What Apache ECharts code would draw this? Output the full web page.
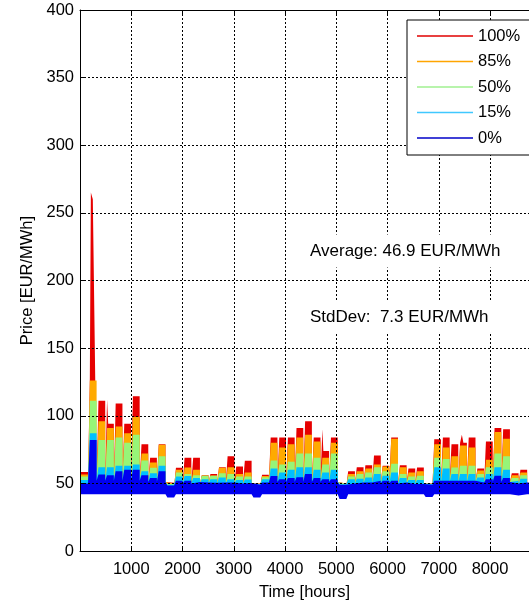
<!DOCTYPE html>
<html><head><meta charset="utf-8">
<script src="https://cdn.jsdelivr.net/npm/echarts@6/dist/echarts.min.js"></script>
<style>html,body{margin:0;padding:0;background:#fff}#c{width:529px;height:606px}</style>
</head><body><div id="c"></div>
<script>
// Legend / series names (bottom to top)
const seriesNames = ['0%', '15%', '50%', '85%', '100%'];
const seriesColors = ['#0000f0', '#00bfff', '#96f578', '#ffaa00', '#e60000'];
const legendColors = ['#0000c8', '#40c8ff', '#a0f090', '#ffa500', '#e00000'];

// Weekly (weekday) levels, weeks 0..51 [EUR/MWh]
const wkBase   = [42,42,42,42,42,42,42,42,42,42,39.5,42,42,42,42,42,42,42,42,42,39.5,42,42,42,42,42,42,42,42,42,38.5,42,42,42,42,42,42,42,42,42,40,42,42,42,42,42,42,42,42,42,41,42];
const wkBlue   = [50,82,56.5,56,59,60,60,56,54,59,48.5,52,52,51,50.7,50.5,50.7,50.7,50,50.2,49,50.7,55.5,53,54,54.5,57,54,53,53,49,50,50.7,50.7,52,52,52,50.7,49.5,49.5,49,52,52,52,52,52,50.7,53,55.6,54,50,50.7];
const wkCyan   = [52.5,87,62,62,63,63,64,59,57.5,63,49,55,55.5,54,53,53,54.4,53,52.5,52.8,49.3,53,61,58,60,62,62,60,58,60,49.3,53,53.5,54.4,57,55.6,58,54,52.5,52.5,49.3,62,61,57,57,57,54.4,57,62,60,52,53.5];
const wkGreen  = [55,111,82,82,84,80,86,67,61.5,70,49.5,58,57,56,55.6,55.6,57.4,57,55,55,49.6,54.5,67,64,66,72,72,69,64,72,49.6,55,57,58,62,59,64.5,57,55,55.6,49.6,69,68,61.8,63,63,57,62,72,70,54,56];
const wkOrange = [56.5,126,96,91,92,87,99,72,65.5,78.5,50,60,61.8,60,55.8,55.8,61.5,62,57,58,49.8,55.5,80,76.5,79,84,86,81,69,80,49.8,57,59,61,64,62.5,83,62,58,59,49.8,79,76.5,70,78,76.5,59.5,67.5,88,83,56,58];
const wkRed    = [58.5,128,111,94,109,94,114.5,79,69,79,50.5,61.5,69,69,56,57,62,70,62.5,66.8,50,56.4,84,84,84,91,96,84,74,84,50,59,62,63.4,70.6,63,84,63.4,61,61.8,50,82.6,84,79,80,84,61,81,91,90,57.4,60];
// Weekend level (top of the band) per week
const weBlue   = [50,52,52,52,52,52,52,51,51,51,48,50,50,50,50,50,50,50,50,50,48,50,51,51,51,51,51,51,51,51,48,50,50,50,50,50,50,50,50,50,48,51,51,51,51,51,50,51,51,51,49,50];
// Short price spikes of the 100% level [hours]
const spikeStart = [212, 250, 289, 520, 4728, 7450];
const spikeEnd   = [250, 289, 324, 550, 4748, 7480];
const spikeRed   = [265, 260, 150, 112, 90, 86];

const xMax = 8760;

// ---- build stepped segment table from the arrays above ----
const bset = new Set([0]);
for (let k = 0; k < wkBase.length; k++) {
  if (k > 0) bset.add(168 * k + 24);
  bset.add(168 * k + 156);
}
spikeStart.forEach(v => bset.add(v));
spikeEnd.forEach(v => bset.add(v));
const bounds = Array.from(bset).filter(v => v < xMax).sort((a, b) => a - b);

const rows = [];
bounds.forEach(h => {
  let k = h < 24 ? 0 : Math.min(wkBase.length - 1, Math.floor((h - 24) / 168));
  const rel = h < 24 ? 0 : h - 24 - 168 * k;
  const weekend = rel >= 132;
  let r;
  if (weekend) {
    const t = weBlue[k];
    r = [wkBase[k], t, t, t, t, t];
  } else {
    r = [wkBase[k], wkBlue[k], wkCyan[k], wkGreen[k], wkOrange[k], wkRed[k]];
    for (let i = 0; i < spikeStart.length; i++) {
      if (h >= spikeStart[i] && h < spikeEnd[i]) r[5] = Math.max(r[5], spikeRed[i]);
    }
  }
  rows.push([h, r]);
});
// last segment runs past the (cropped) right edge of the plot
rows.push([xMax + 200, rows[rows.length - 1][1]]);

const font = 'Liberation Sans, Arial, sans-serif';
const gridLine = { show: true, lineStyle: { color: '#000', type: [2, 2], width: 1 } };

// Areas drawn from the top level down; each one fills to the axis, the last (white) hides below the lowest level.
const series = [];
for (let j = 5; j >= 1; j--) {
  const i = j - 1;
  series.push({
    name: seriesNames[i], type: 'line', step: 'end', zlevel: 0, z: 2, clip: true,
    data: rows.map(([h, r]) => [h, r[j]]),
    symbol: 'none', showSymbol: false, color: seriesColors[i],
    lineStyle: { opacity: 0, width: 0 },
    areaStyle: { color: seriesColors[i], opacity: 1 }
  });
}
series.push({
  name: 'base', type: 'line', step: 'end', zlevel: 0, z: 2, clip: true,
  data: rows.map(([h, r]) => [h, r[0]]),
  symbol: 'none', showSymbol: false, silent: true,
  lineStyle: { opacity: 0, width: 0 },
  areaStyle: { color: '#fff', opacity: 1 }
});

const chart = echarts.init(document.getElementById('c'), null, { renderer: 'canvas' });
chart.setOption({
  animation: false,
  backgroundColor: '#fff',
  textStyle: { fontFamily: font },
  grid: { left: 80, top: 10, right: -6, bottom: 52, containLabel: false },
  xAxis: [{
    type: 'value', min: 0, max: xMax, interval: 1000, position: 'bottom', zlevel: 1,
    axisLine: { show: true, lineStyle: { color: '#000', width: 1 } },
    axisTick: { show: true, inside: true, length: 5, lineStyle: { color: '#000' } },
    axisLabel: { showMinLabel: false, showMaxLabel: false, fontSize: 16.5, color: '#000', fontFamily: font, margin: 10,
      formatter: v => String(v) },
    splitLine: gridLine,
    name: 'Time [hours]', nameLocation: 'middle', nameGap: 33,
    nameTextStyle: { fontSize: 16.5, color: '#000', fontFamily: font }
  }, {
    type: 'value', min: 0, max: xMax, interval: 1000, position: 'top', zlevel: 1,
    axisLine: { show: true, lineStyle: { color: '#000', width: 1 } },
    axisTick: { show: true, inside: true, length: 5, lineStyle: { color: '#000' } },
    axisLabel: { show: false }, splitLine: { show: false }
  }],
  yAxis: {
    type: 'value', min: 0, max: 400, interval: 50, zlevel: 1,
    axisLine: { show: true, lineStyle: { color: '#000', width: 1 } },
    axisTick: { show: true, inside: true, length: 5, lineStyle: { color: '#000' } },
    axisLabel: { fontSize: 16.5, color: '#000', fontFamily: font, margin: 6, formatter: v => String(v) },
    splitLine: gridLine,
    name: 'Price [EUR/MWh]', nameLocation: 'middle', nameGap: 44,
    nameTextStyle: { fontSize: 16.5, color: '#000', fontFamily: font }
  },
  legend: {
    orient: 'vertical', left: 407, top: 20, zlevel: 2,
    backgroundColor: '#fff', borderColor: '#000', borderWidth: 1, borderRadius: 0,
    padding: [7, 40, 8, 10], itemGap: 7.5, itemWidth: 56, itemHeight: 1.5,
    textStyle: { fontSize: 16.5, color: '#000', fontFamily: font, lineHeight: 18 },
    data: seriesNames.slice().reverse().map(n => {
      const i = seriesNames.indexOf(n);
      return { name: n, icon: 'rect', itemStyle: { color: legendColors[i] } };
    })
  },
  graphic: [{
    type: 'text', x: 306, y: 251, zlevel: 2,
    style: { text: 'Average: 46.9 EUR/MWh', font: '17px ' + font, fill: '#000',
      verticalAlign: 'middle', backgroundColor: '#fff', padding: [8, 4, 8, 4] }
  }, {
    type: 'text', x: 306, y: 317, zlevel: 2,
    style: { text: 'StdDev:  7.3 EUR/MWh', font: '17px ' + font, fill: '#000',
      verticalAlign: 'middle', backgroundColor: '#fff', padding: [8, 4, 8, 4] }
  }],
  series: series
});
</script>
</body></html>
